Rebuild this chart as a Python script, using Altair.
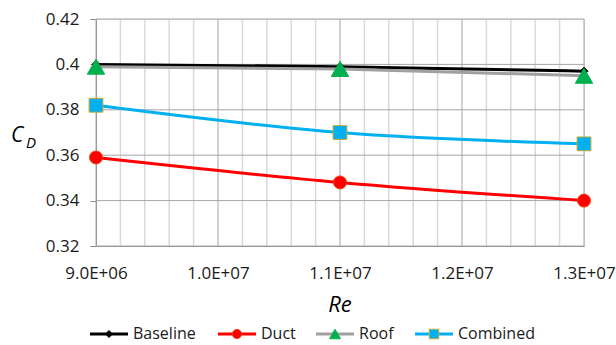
import altair as alt
import pandas as pd

# ---- data ----
series = ["Baseline", "Duct", "Roof", "Combined"]
re_values = [9.0e6, 1.1e7, 1.3e7]
baseline = [0.400, 0.399, 0.397]
duct = [0.359, 0.348, 0.340]
roof = [0.399, 0.398, 0.395]
combined = [0.382, 0.370, 0.365]

x_ticks = [9.0e6, 1.0e7, 1.1e7, 1.2e7, 1.3e7]
x_minor = [9.2e6, 9.4e6, 9.6e6, 9.8e6, 1.02e7, 1.04e7, 1.06e7, 1.08e7,
           1.12e7, 1.14e7, 1.16e7, 1.18e7, 1.22e7, 1.24e7, 1.26e7, 1.28e7]
y_ticks = [0.32, 0.34, 0.36, 0.38, 0.40, 0.42]

values = {"Baseline": baseline, "Duct": duct, "Roof": roof, "Combined": combined}
rows = []
for s in series:
    for r, v in zip(re_values, values[s]):
        rows.append({"series": s, "Re": r, "CD": v})
df = pd.DataFrame(rows)

# ---- styles ----
style = {
    "Baseline": dict(line="#000000", shape="diamond", fill="#000000", stroke="#000000", size=64, lsize=49),
    "Duct": dict(line="#FF0000", shape="circle", fill="#FF0000", stroke="#F04010", size=169, lsize=85),
    "Roof": dict(line="#A0A0A0", shape="triangle-up", fill="#00B050", stroke="#00B050", size=300, lsize=121),
    "Combined": dict(line="#00B0F0", shape="square", fill="#00B0F0", stroke="#C8A830", size=190, lsize=90),
}

FONT = "Open Sans"
W, H = 488, 227
xs = alt.Scale(domain=[9.0e6, 1.3e7], nice=False)
ys = alt.Scale(domain=[0.32, 0.42], nice=False)

label_expr = ("datum.value < 1e7 ? format(datum.value/1e6, '.1f') + 'E+06' : "
              "format(datum.value/1e7, '.1f') + 'E+07'")

x_axis = alt.Axis(values=x_ticks, labelExpr=label_expr, grid=False, ticks=False,
                  labelFlush=False, labelOverlap=False,
                  labelPadding=19, labelFont=FONT, labelFontSize=17, labelColor="#1a1a1a",
                  domainColor="#8c8c8c", title=None)
y_axis = alt.Axis(values=y_ticks, format=".2~f", grid=False, tickSize=6, tickColor="#8c8c8c",
                  labelFlush=False, labelOverlap=False,
                  labelPadding=11, labelFont=FONT, labelFontSize=17, labelColor="#1a1a1a",
                  domainColor="#8c8c8c", title=None)

base_axes = alt.Chart(df).mark_point(opacity=0).encode(
    x=alt.X("Re:Q", scale=xs, axis=x_axis),
    y=alt.Y("CD:Q", scale=ys, axis=y_axis),
)

minor_grid = alt.Chart(pd.DataFrame({"v": x_minor})).mark_rule(
    color="#D9D9D9", strokeWidth=1.5).encode(x=alt.X("v:Q", scale=xs))
h_grid = alt.Chart(pd.DataFrame({"v": y_ticks})).mark_rule(
    color="#A6A6A6", strokeWidth=1).encode(y=alt.Y("v:Q", scale=ys))
major_grid = alt.Chart(pd.DataFrame({"v": x_ticks})).mark_rule(
    color="#A6A6A6", strokeWidth=1).encode(x=alt.X("v:Q", scale=xs))

layers = [base_axes, minor_grid, h_grid, major_grid]

for s in series:
    st = style[s]
    layers.append(
        alt.Chart(df[df.series == s]).mark_line(
            color=st["line"], strokeWidth=3, interpolate="monotone").encode(
            x=alt.X("Re:Q", scale=xs), y=alt.Y("CD:Q", scale=ys))
    )
for s in series:
    st = style[s]
    layers.append(
        alt.Chart(df[df.series == s]).mark_point(
            shape=st["shape"], filled=True, fill=st["fill"], stroke=st["stroke"],
            strokeWidth=1, size=st["size"], opacity=1).encode(
            x=alt.X("Re:Q", scale=xs), y=alt.Y("CD:Q", scale=ys))
    )

# axis titles
layers.append(alt.Chart(pd.DataFrame({"t": ["C"]})).mark_text(
    font=FONT, fontSize=21, fontStyle="italic", align="left", baseline="alphabetic", color="#000").encode(
    text="t:N", x=alt.value(-85), y=alt.value(123)))
layers.append(alt.Chart(pd.DataFrame({"t": ["D"]})).mark_text(
    font=FONT, fontSize=15, fontStyle="italic", align="left", baseline="alphabetic", color="#000").encode(
    text="t:N", x=alt.value(-70), y=alt.value(129)))
layers.append(alt.Chart(pd.DataFrame({"t": ["Re"]})).mark_text(
    font=FONT, fontSize=22, fontStyle="italic", align="center", baseline="alphabetic", color="#000").encode(
    text="t:N", x=alt.value(W / 2), y=alt.value(293)))

# legend (positions relative to plot origin)
leg_x = {"Baseline": -6, "Duct": 122, "Roof": 220, "Combined": 319}
leg_y = 315
for s in series:
    st = style[s]
    x0 = leg_x[s]
    layers.append(alt.Chart(pd.DataFrame({"t": [s]})).mark_rule(
        color=st["line"], strokeWidth=3).encode(
        x=alt.value(x0), x2=alt.value(x0 + 38), y=alt.value(leg_y)))
    layers.append(alt.Chart(pd.DataFrame({"t": [s]})).mark_point(
        shape=st["shape"], filled=True, fill=st["fill"], stroke=st["stroke"],
        strokeWidth=1, size=st["lsize"], opacity=1).encode(
        x=alt.value(x0 + 19), y=alt.value(leg_y)))
    layers.append(alt.Chart(pd.DataFrame({"t": [s]})).mark_text(
        font=FONT, fontSize=16, align="left", baseline="middle", color="#1a1a1a").encode(
        text="t:N", x=alt.value(x0 + 43), y=alt.value(leg_y)))

chart = alt.layer(*layers).properties(
    width=W, height=H,
    autosize=alt.AutoSizeParams(type="none"),
    padding={"left": 96, "top": 19, "right": 32, "bottom": 99},
).configure_view(stroke=None).configure(background="white")

chart.save("out.html", embed_options={"renderer": "svg", "actions": False})
